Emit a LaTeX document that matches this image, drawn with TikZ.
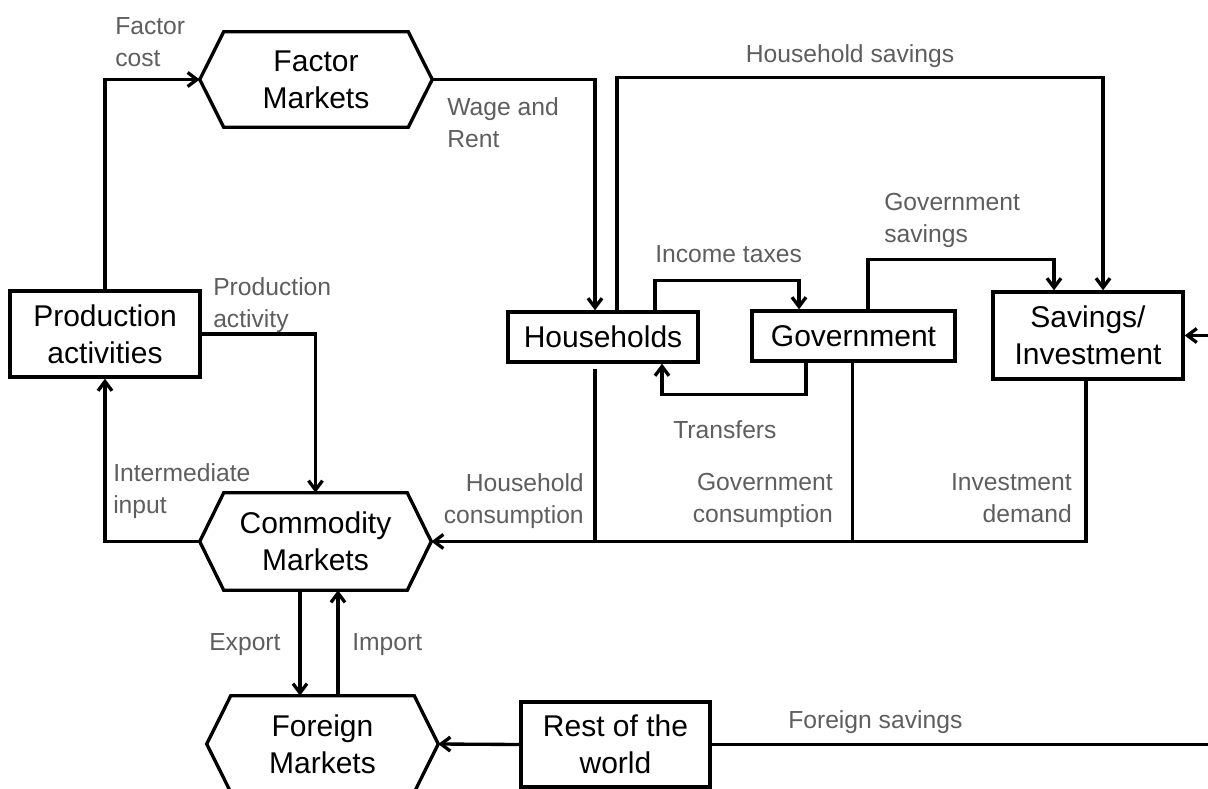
\documentclass[tikz,border=0pt]{standalone}
\usepackage{fontspec}
\setmainfont{Liberation Sans}
\usetikzlibrary{arrows.meta,calc}
\definecolor{lblgray}{HTML}{5E5E5E}
\newcommand{\hexoutline}[1]{\draw[ln] (#1.west) -- ([xshift=18pt]#1.north west) -- ([xshift=-18pt]#1.north east) -- (#1.east) -- ([xshift=-18pt]#1.south east) -- ([xshift=18pt]#1.south west) -- cycle;}
\begin{document}
\begin{tikzpicture}[x=0.75pt,y=-0.75pt,
  ln/.style={line width=2.5pt, line join=miter},
  arr/.style={ln, -{Straight Barb[length=7pt,width=10.5pt]}},
  boxnode/.style={draw, line width=2.5pt, inner sep=0pt, align=center, font=\fontsize{22.5}{27.5}\selectfont},
  hexnode/.style={inner sep=0pt, align=center, font=\fontsize{22.5}{27.5}\selectfont},
  lbl/.style={inner sep=0pt, text=lblgray, font=\fontsize{18.5}{24}\selectfont},
]
\useasboundingbox (0,0) rectangle (1208,789);

% hexagon nodes
\node[hexnode, minimum width=174pt, minimum height=71.25pt] (fm) at (316,79.5) {Factor\\Markets};
\node[hexnode, minimum width=173.25pt, minimum height=72.75pt] (cm) at (315.5,541.5) {Commodity\\Markets};
\node[hexnode, minimum width=173.25pt, minimum height=72pt] (fom) at (322.5,744) {Foreign\\Markets};
\hexoutline{fm}
\hexoutline{cm}
\hexoutline{fom}

% boxes
\node[boxnode, minimum width=142.5pt, minimum height=64.5pt] (pa) at (105,334) {Production\\activities};
\node[boxnode, minimum width=142.5pt, minimum height=37.5pt] (hh) at (603,337) {Households};
\node[boxnode, minimum width=152.25pt, minimum height=37.5pt] (gov) at (853.5,336) {Government};
\node[boxnode, minimum width=142.5pt, minimum height=65.25pt] (si) at (1088,335.5) {Savings/\\Investment};
\node[boxnode, minimum width=141.75pt, minimum height=63.75pt] (row) at (615.5,744.5) {Rest of the\\world};

\coordinate (redge) at (1212,745);
\coordinate (hc) at ($(hh.south)+(-8,0)$);
\coordinate (gc) at ($(gov.south)+(-1,0)$);

% connectors
\draw[arr] (pa.north) |- (fm.west);
\draw[arr] (fm.east) -| ($(hh.north)+(-8,0)$);
\draw[arr] ($(hh.north)+(14,0)$) -- ++(0,-233) -| ($(si.north)+(15,0)$);
\draw[arr] ($(hh.north)+(52,0)$) -- ++(0,-30) -| ($(gov.north)+(-54.5,0)$);
\draw[arr] ($(gov.south)+(-47.5,0)$) -- ++(0,32) -| ($(hh.south)+(59,0)$);
\draw[arr] ($(gov.north)+(14.5,0)$) -- ++(0,-50) -| ($(si.north)+(-34,0)$);
\draw[arr] (row.east) -| (redge |- si.east) -- (si.east);
\draw[arr] (row.west) -- (fom.east);
\draw[arr] (pa.east) -| (cm.north);
\draw[arr] (cm.west) -| (pa.south);
\draw[ln] (hc) ++(0,5) -- (hc |- cm.east);
\draw[ln] (gc) -- (gc |- cm.east);
\draw[arr] ($(si.south)+(-2,0)$) |- (cm.east);
\draw[arr] ($(cm.south)+(-15.5,0)$) -- ($(fom.north)+(-22.5,0)$);
\draw[arr] ($(fom.north)+(15.5,0)$) -- ($(cm.south)+(22.5,0)$);

% labels
\node[lbl, anchor=north west, align=left] (l1) at (115,17) {Factor\\cost};
\node[lbl, anchor=north west, align=left] (l2) at (447,97) {Wage and\\Rent};
\node[lbl, anchor=north] (l3) at (850,44) {Household savings};
\node[lbl, anchor=north west] (l4) at (655,245) {Income taxes};
\node[lbl, anchor=north west, align=left] (l5) at (884,193) {Government\\savings};
\node[lbl, anchor=north west] (l6) at (673,420) {Transfers};
\node[lbl, anchor=north west, align=left] (l7) at (213,277) {Production\\activity};
\node[lbl, anchor=north west, align=left] (l8) at (113,463) {Intermediate\\input};
\node[lbl, anchor=north east, align=right] (l9) at (584,473) {Household\\consumption};
\node[lbl, anchor=north east, align=right] (l10) at (833,473) {Government\\consumption};
\node[lbl, anchor=north east, align=right] (l11) at (1072,473) {Investment\\demand};
\node[lbl, anchor=north west] (l12) at (209,633) {Export};
\node[lbl, anchor=north west] (l13) at (352,633) {Import};
\node[lbl, anchor=north west] (l14) at (788,710) {Foreign savings};
\end{tikzpicture}
\end{document}
